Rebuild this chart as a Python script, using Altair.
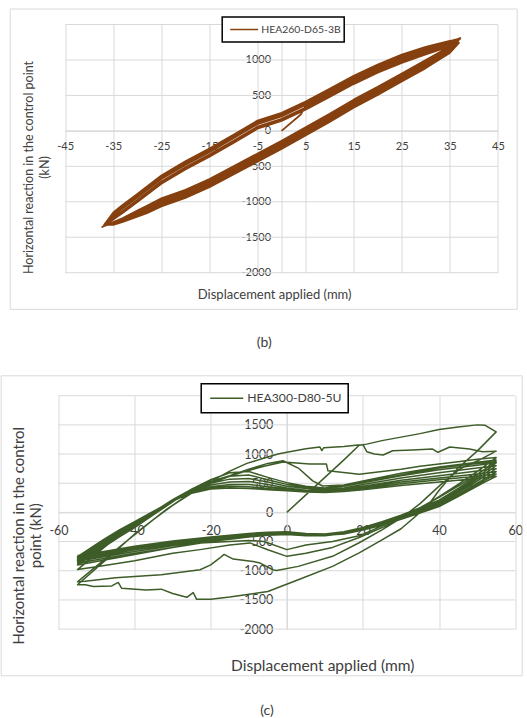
import altair as alt
import pandas as pd

FONT = "Lato"
TEXT = "#404040"
GRID = "#d9d9d9"

# ---------------- (b) HEA260-D65-3B ----------------
B_NAME = "HEA260-D65-3B"
B_COLOR = "#86400f"
B_XDOM = [-45, 45]
B_YDOM = [-2000, 1500]
B_XTICKS = [-45, -35, -25, -15, -5, 5, 15, 25, 35, 45]
B_YTICKS = [-2000, -1500, -1000, -500, 0, 500, 1000, 1500]

# first loading from rest
B_INIT_X = [0, 4]
B_INIT_Y = [0, 230]

# reloading branches (negative tip -> positive tip), one row per cycle
B_UP_X = [-35, -33, -30, -25, -20, -15, -10, -5, 0, 5, 10, 15, 20, 25, 30, 35]
B_UP_Y = [
    [-1200, -1100, -950, -690, -490, -310, -115, 85, 195, 355, 535, 715, 875, 1015, 1135, 1235],
    [-1160, -1055, -905, -645, -445, -265, -70, 130, 240, 400, 580, 760, 920, 1060, 1175, 1265],
    [-1235, -1140, -990, -730, -530, -350, -155, 45, 155, 315, 495, 675, 835, 975, 1095, 1200],
    [-1180, -1075, -925, -665, -465, -285, -90, 110, 220, 380, 560, 740, 900, 1040, 1160, 1255],
    [-1220, -1125, -975, -715, -515, -335, -140, 60, 170, 330, 510, 690, 850, 990, 1110, 1215],
    [-1150, -1040, -890, -630, -430, -250, -55, 145, 255, 415, 595, 775, 935, 1075, 1185, 1270],
    [-1250, -1155, -1005, -745, -545, -365, -170, 30, 140, 300, 480, 660, 820, 960, 1080, 1190],
    [-1195, -1090, -940, -680, -480, -300, -105, 95, 205, 365, 545, 725, 885, 1025, 1145, 1245],
]
# unloading branches (positive tip -> negative tip)
B_LO_X = [35, 30, 25, 20, 15, 10, 5, 0, -5, -10, -15, -20, -25, -28, -30, -33, -35]
B_LO_Y = [
    [1150, 945, 755, 565, 385, 185, -5, -195, -375, -555, -735, -885, -1005, -1105, -1165, -1258, -1305],
    [1180, 985, 795, 605, 425, 225, 35, -155, -335, -515, -695, -845, -965, -1070, -1135, -1235, -1290],
    [1115, 900, 710, 520, 340, 140, -50, -240, -420, -600, -780, -930, -1050, -1145, -1200, -1280, -1320],
    [1165, 965, 775, 585, 405, 205, 15, -175, -355, -535, -715, -865, -985, -1085, -1150, -1245, -1298],
    [1135, 920, 730, 540, 360, 160, -30, -220, -400, -580, -760, -910, -1030, -1125, -1185, -1270, -1312],
    [1190, 1000, 810, 620, 440, 240, 50, -140, -320, -500, -680, -830, -950, -1055, -1125, -1230, -1285],
    [1100, 885, 695, 505, 325, 125, -65, -255, -435, -615, -795, -945, -1065, -1160, -1210, -1285, -1325],
    [1158, 955, 765, 575, 395, 195, 5, -185, -365, -545, -725, -875, -995, -1098, -1160, -1255, -1303],
]
B_PEAK_POS_X = [36.6, 37.0, 36.8, 37.2, 36.5, 37.1, 36.9, 36.7]
B_PEAK_POS_Y = [1270, 1300, 1250, 1310, 1260, 1295, 1240, 1285]
B_PEAK_NEG_X = [-36.8, -37.2, -36.6, -37.0, -36.9, -37.3, -36.7, -37.1]
B_PEAK_NEG_Y = [-1330, -1350, -1315, -1340, -1325, -1355, -1320, -1345]

# ---------------- (c) HEA300-D80-5U ----------------
C_NAME = "HEA300-D80-5U"
C_COLOR = "#3d5c28"
C_XDOM = [-60, 60]
C_YDOM = [-2000, 2000]
C_XTICKS = [-60, -40, -20, 0, 20, 40, 60]
C_YTICKS = [-2000, -1500, -1000, -500, 0, 500, 1000, 1500, 2000]

C_INIT_X = [0, 5, 10, 15, 19, 21, 25, 30, 35, 40, 45, 50, 52, 55]
C_INIT_Y = [0, 300, 600, 900, 1150, 1170, 1230, 1290, 1350, 1420, 1465, 1500, 1495, 1380]

C_L1_X = [55, 50, 45, 40, 37, 30, 25, 19, 12, 3, -5, -15, -20, -23.7, -24.6, -26.3, -30, -33, -37,
          -43.4, -44.3, -46, -50.8, -53, -55]
C_L1_Y = [1380, 1050, 760, 380, 110, -280, -470, -695, -925, -1155, -1356, -1450, -1489, -1489, -1375,
          -1455, -1390, -1315, -1330, -1300, -1200, -1260, -1270, -1240, -1240]

C_U2_X = [-55, -46.5, -40, -31.6, -26, -22.6, -18, -15, -10.5, -5, -2.3, 0, 5, 8.7, 9.2, 9.7, 15, 18.7,
          20, 21, 23, 25.3, 27.8, 33, 38.3, 39.7, 42.8, 48, 51.4, 55]
C_U2_Y = [-1240, -753, -370, 52, 300, 420, 600, 707, 840, 950, 1000, 1030, 1090, 1120, 1060, 1110, 1130,
          1155, 1160, 1040, 1000, 983, 1057, 1070, 1086, 1030, 1120, 1086, 1040, 1050]

C_L2_X = [55, 50, 45.4, 40, 35, 30, 25, 19, 12, 3, -2.7, -3.7, -7, -8.9, -14.1, -16.5, -17.6, -20,
          -22.8, -33, -45, -53, -55]
C_L2_Y = [1050, 880, 741, 450, 150, -100, -300, -520, -753, -925, -995, -983, -868, -840, -800, -720,
          -781, -900, -983, -1069, -1121, -1180, -1190]

C_U3_X = [-55, -46, -40, -35, -30, -25, -20, -15, -11.5, -6, -1, 6, 10.4, 10.8, 19, 25, 30, 35, 40, 45,
          50, 55]
C_U3_Y = [-1190, -700, -380, -120, 120, 330, 500, 620, 690, 790, 862, 828, 828, 712, 655, 700, 740, 790,
          830, 870, 910, 940]

C_L3_X = [55, 50, 45, 40, 35, 30, 25, 19, 12, 5, 0, -5, -9.7, -15, -22.8, -30, -40, -50, -55]
C_L3_Y = [940, 700, 480, 270, 70, -110, -260, -431, -600, -700, -753, -640, -523, -560, -638, -700,
          -830, -930, -980]

C_U4_X = [-55, -48, -44, -40, -35, -30, -25, -20, -15, -10, -5, -1, 3, 6.8, 9.4, 15, 20, 25, 30, 35, 40,
          45, 50, 55]
C_U4_Y = [-980, -600, -400, -220, 10, 220, 400, 530, 630, 740, 840, 885, 760, 540, 453, 470, 520, 580,
          640, 700, 760, 800, 840, 870]

C_L4_X = [55, 50, 45, 40, 35, 30, 25, 19, 12, 5, 0, -6, -10, -15, -22.8, -30, -40, -50, -55]
C_L4_Y = [870, 650, 450, 260, 80, -90, -230, -402, -500, -560, -638, -500, -480, -500, -523, -600, -720,
          -840, -900]

# stabilised cycles: reloading branches
C_UP_X = [-55, -52, -48, -44, -40, -35, -30, -25, -20, -15, -10, -5, 0, 5, 10, 15, 20, 30, 40, 50, 55]
C_UP_Y = [
    [-900, -770, -590, -420, -260, -40, 180, 400, 560, 680, 700, 600, 510, 450, 420, 470, 540, 670, 780, 860, 900],
    [-870, -740, -560, -400, -240, -20, 200, 400, 530, 620, 640, 560, 480, 430, 400, 450, 510, 630, 730, 810, 850],
    [-840, -710, -540, -380, -220, -10, 200, 390, 500, 570, 580, 520, 450, 410, 380, 420, 480, 590, 680, 760, 800],
    [-820, -690, -520, -360, -210, -10, 190, 370, 470, 520, 530, 480, 420, 380, 370, 400, 450, 550, 630, 710, 750],
    [-800, -670, -500, -340, -190, 0, 190, 350, 440, 480, 480, 440, 400, 370, 360, 390, 430, 520, 590, 660, 700],
    [-780, -650, -480, -320, -180, 10, 200, 340, 420, 450, 440, 410, 380, 360, 350, 380, 410, 490, 560, 620, 660],
    [-760, -630, -460, -300, -160, 20, 200, 330, 400, 420, 410, 390, 370, 350, 340, 360, 390, 460, 520, 580, 620],
]
# stabilised cycles: unloading branches
C_LO_X = [55, 52, 48, 45, 40, 35, 30, 25, 20, 15, 10, 5, 0, -5, -10, -20, -30, -40, -50, -55]
C_LO_Y = [
    [900, 740, 540, 410, 210, 80, -50, -160, -260, -330, -370, -380, -370, -390, -420, -500, -600, -700, -810, -870],
    [850, 700, 510, 390, 190, 60, -70, -180, -280, -350, -390, -400, -380, -390, -420, -480, -570, -670, -780, -840],
    [800, 660, 480, 360, 170, 50, -80, -190, -290, -360, -400, -400, -370, -380, -400, -460, -550, -640, -760, -820],
    [750, 620, 450, 340, 150, 30, -90, -200, -300, -360, -400, -390, -360, -370, -390, -450, -530, -620, -740, -800],
    [700, 580, 420, 310, 130, 20, -100, -210, -300, -370, -390, -380, -350, -360, -380, -440, -520, -600, -720, -780],
    [660, 550, 400, 290, 110, 0, -110, -210, -300, -360, -380, -370, -340, -350, -370, -430, -500, -590, -700, -760],
    [620, 520, 380, 270, 100, -10, -120, -220, -300, -350, -370, -360, -330, -340, -360, -420, -490, -580, -690, -740],
]


def path_frame(segments):
    xs, ys = [], []
    for sx, sy in segments:
        xs += list(sx)
        ys += list(sy)
    return pd.DataFrame({"x": xs, "y": ys, "step": range(len(xs))})


# load path of (b)
b_segments = [(B_INIT_X, B_INIT_Y)]
for k in range(len(B_UP_Y)):
    pts = [(x, y) for x, y in zip(B_UP_X, B_UP_Y[k]) if not (k == 0 and x <= B_INIT_X[-1])]
    b_segments.append(([p[0] for p in pts], [p[1] for p in pts]))
    b_segments.append(([B_PEAK_POS_X[k]], [B_PEAK_POS_Y[k]]))
    b_segments.append((B_LO_X, B_LO_Y[k]))
    b_segments.append(([B_PEAK_NEG_X[k]], [B_PEAK_NEG_Y[k]]))
df_b = path_frame(b_segments)

# load path of (c)
c_segments = [(C_INIT_X, C_INIT_Y), (C_L1_X, C_L1_Y), (C_U2_X, C_U2_Y), (C_L2_X, C_L2_Y),
              (C_U3_X, C_U3_Y), (C_L3_X, C_L3_Y), (C_U4_X, C_U4_Y), (C_L4_X, C_L4_Y)]
for k in range(len(C_UP_Y)):
    c_segments.append((C_UP_X, C_UP_Y[k]))
    c_segments.append((C_LO_X, C_LO_Y[k]))
df_c = path_frame(c_segments)

ONE = pd.DataFrame({"k": [0]})


def txt(text, x, y, size, angle=0, align="center"):
    return alt.Chart(ONE).mark_text(
        text=text, font=FONT, fontSize=size, color=TEXT, angle=angle,
        align=align, baseline="middle"
    ).encode(x=alt.value(x), y=alt.value(y))


def box(x0, x1, y0, y1, stroke, sw, fill=None):
    kw = dict(stroke=stroke, strokeWidth=sw)
    if fill:
        kw["fill"] = fill
    else:
        kw["fillOpacity"] = 0
    return alt.Chart(ONE).mark_rect(**kw).encode(
        x=alt.value(x0), x2=alt.value(x1), y=alt.value(y0), y2=alt.value(y1)
    )


def panel(df, color, sw, w, pw, left, h, xdom, ydom, xticks, yticks, lab_size, xpad, ypad,
          legend, name, ytitle, xtitle, caption, frame):
    # plot area spans [left, left + pw] horizontally inside a view of width w
    x0 = left + (0 - xdom[0]) / (xdom[1] - xdom[0]) * pw
    y0 = (ydom[1] - 0) / (ydom[1] - ydom[0]) * h
    common = dict(title=None, domain=True, domainColor=GRID, ticks=False, tickSize=0,
                  labelFont=FONT, labelFontSize=lab_size, labelColor=TEXT, labelFlush=False,
                  labelOverlap=False, labelBound=False, labelExpr="'' + datum.value")
    xaxis = alt.Axis(values=xticks, labelPadding=xpad, offset=-(h - y0), grid=True,
                     gridColor=GRID, gridWidth=1, **common)
    # the top value sits under the legend box, so it carries a grid line but no label
    yaxis = alt.Axis(values=yticks[:-1], labelPadding=ypad, offset=-x0, grid=False, **common)
    xs = alt.Scale(domain=xdom, nice=False, zero=False, range=[left, left + pw])
    ys = alt.Scale(domain=ydom, nice=False, zero=False)
    hgrid = alt.Chart(pd.DataFrame({"y": yticks})).mark_rule(color=GRID, strokeWidth=1).encode(
        y=alt.Y("y:Q", scale=ys, axis=yaxis), x=alt.value(left), x2=alt.value(left + pw)
    )
    line = alt.Chart(df).mark_line(color=color, strokeWidth=sw, strokeJoin="round").encode(
        x=alt.X("x:Q", scale=xs, axis=xaxis),
        y=alt.Y("y:Q", scale=ys, axis=yaxis),
        order=alt.Order("step:Q"),
    )
    lx0, lx1, ly0, ly1, sx0, sx1, tx, lsize = legend
    ly = (ly0 + ly1) / 2
    layers = [
        box(*frame, GRID, 1),
        hgrid,
        line,
        box(lx0, lx1, ly0, ly1, "#000000", 1.5, fill="#ffffff"),
        alt.Chart(ONE).mark_rule(color=color, strokeWidth=1.5).encode(
            x=alt.value(sx0), x2=alt.value(sx1), y=alt.value(ly)),
        txt(name, tx, ly, lsize, align="left"),
    ]
    for t, x, y, s in ytitle:
        layers.append(txt(t, x, y, s, angle=270))
    layers.append(txt(xtitle[0], xtitle[1], xtitle[2], xtitle[3]))
    layers.append(txt(caption[0], caption[1], caption[2], caption[3]))
    return alt.layer(*layers).properties(width=w, height=h)


SHIFT = 6.7  # the upper plot area starts this far right of the lower one

top = panel(
    df_b, B_COLOR, 1.8, 457, 432.7, SHIFT, 248.2, B_XDOM, B_YDOM, B_XTICKS, B_YTICKS, 11, 10, 11,
    legend=(SHIFT + 157, SHIFT + 279, -7.5, 17.5, SHIFT + 165, SHIFT + 193, SHIFT + 196, 10.4),
    name=B_NAME,
    ytitle=[("Horizontal reaction in the control point", SHIFT - 36.5, 143, 12.5),
            ("(kN)", SHIFT - 20, 143, 12.5)],
    xtitle=("Displacement applied (mm)", SHIFT + 209.5, 270.5, 13),
    caption=("(b)", SHIFT + 199, 318.5, 14),
    frame=(SHIFT - 55, SHIFT + 452, -15.5, 284.8),
)

bottom = panel(
    df_c, C_COLOR, 1.5, 456.7, 456.7, 0, 233.4, C_XDOM, C_YDOM, C_XTICKS, C_YTICKS, 12.5, 12, 14,
    legend=(142.7, 289.7, -11.9, 17.1, 151.7, 184.7, 188.7, 12.2),
    name=C_NAME,
    ytitle=[("Horizontal reaction in the control", -39.9, 140, 15),
            ("point (kN)", -22.8, 140, 15)],
    xtitle=("Displacement applied (mm)", 264.2, 270.1, 15.5),
    caption=("(c)", 208.4, 315.1, 14),
    frame=(-57.3, 463.7, -19.9, 280.1),
)

chart = alt.vconcat(top, bottom, spacing=122.2, bounds="flush").properties(
    padding={"left": 0.5, "top": 8.5, "right": 0, "bottom": 0},
    autosize=alt.AutoSizeParams(type="pad"),
    background="#ffffff",
).configure_view(stroke=None)

chart.save("out.html", embed_options={"renderer": "svg", "actions": False})
